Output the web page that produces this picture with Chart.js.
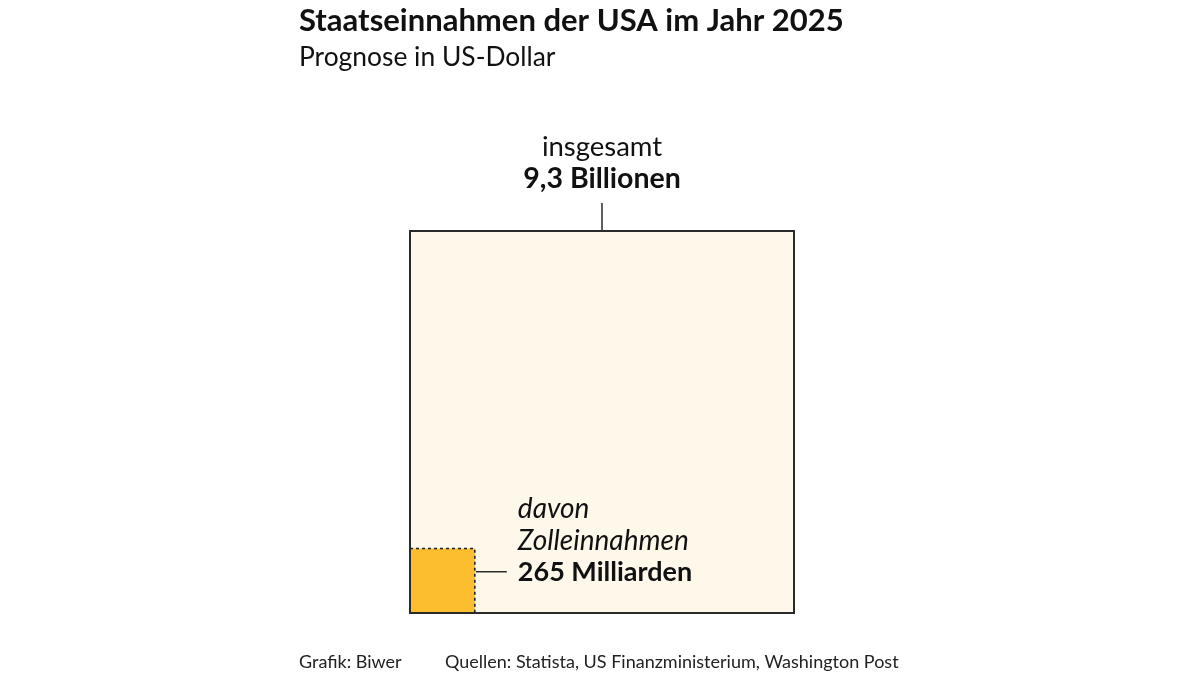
<!DOCTYPE html>
<html><head><meta charset="utf-8">
<script src="https://cdn.jsdelivr.net/npm/chart.js@4.4.1/dist/chart.umd.min.js"></script>
<style>html,body{margin:0;padding:0;background:#fff}#wrap{width:1200px;height:675px}</style>
</head><body><div id="wrap"><canvas id="c" width="1200" height="675"></canvas></div>
<script>
const categories = ["insgesamt", "davon Zolleinnahmen"];
const valuesBillionUSD = [9300, 265];
const valueLabels = ["9,3 Billionen", "265 Milliarden"];
const titleText = "Staatseinnahmen der USA im Jahr 2025";
const subtitleText = "Prognose in US-Dollar";
const footerLeft = "Grafik: Biwer";
const footerRight = "Quellen: Statista, US Finanzministerium, Washington Post";

const FONT = "Lato, 'Noto Sans', sans-serif";
const side = valuesBillionUSD.map(v => Math.sqrt(v));

const squarePlugin = {
  id: 'squares',
  afterDatasetsDraw(chart) {
    const ctx = chart.ctx, xs = chart.scales.x, ys = chart.scales.y;
    const x0 = xs.getPixelForValue(0), y0 = ys.getPixelForValue(0);
    const xb = xs.getPixelForValue(side[0]), yb = ys.getPixelForValue(side[0]);
    const xs1 = xs.getPixelForValue(side[1]), ys1 = ys.getPixelForValue(side[1]);
    ctx.save();
    ctx.fillStyle = '#fdf8ea';
    ctx.fillRect(x0, yb, xb - x0, y0 - yb);
    ctx.fillStyle = '#fcbd2f';
    ctx.fillRect(x0, ys1, xs1 - x0, y0 - ys1);
    ctx.strokeStyle = '#222';
    ctx.lineWidth = 1.6;
    ctx.setLineDash([3, 3]);
    ctx.beginPath();
    ctx.moveTo(x0, ys1); ctx.lineTo(xs1, ys1); ctx.lineTo(xs1, y0);
    ctx.stroke();
    ctx.setLineDash([]);
    ctx.lineWidth = 2;
    ctx.strokeStyle = '#2a2a2a';
    ctx.strokeRect(x0, yb, xb - x0, y0 - yb);
    const xc = xs.getPixelForValue(side[0] / 2);
    ctx.lineWidth = 1.5;
    ctx.beginPath(); ctx.moveTo(xc, yb - 28); ctx.lineTo(xc, yb); ctx.stroke();
    const ly = ys.getPixelForValue(side[1] * 0.64);
    ctx.beginPath(); ctx.moveTo(xs1 + 1, ly); ctx.lineTo(xs1 + 32, ly); ctx.stroke();

    ctx.fillStyle = '#111';
    ctx.textBaseline = 'alphabetic';
    ctx.textAlign = 'center';
    ctx.font = '400 27.5px ' + FONT;
    ctx.fillText(categories[0], xc, yb - 75);
    ctx.font = '700 28.5px ' + FONT;
    ctx.fillText(valueLabels[0], xc, yb - 43);

    ctx.textAlign = 'left';
    const lx = xs1 + 43;
    const parts = categories[1].split(' ');
    ctx.font = 'italic 400 28px ' + FONT;
    ctx.fillText(parts[0], lx, ly - 54);
    ctx.fillText(parts[1], lx, ly - 22);
    ctx.font = '700 27px ' + FONT;
    ctx.fillText(valueLabels[1], lx, ly + 9);

    ctx.font = '700 31px ' + FONT;
    ctx.fillText(titleText, 299, 31);
    ctx.font = '400 26.4px ' + FONT;
    ctx.fillText(subtitleText, 299, 66);
    ctx.font = '400 18px ' + FONT;
    ctx.fillStyle = '#222';
    ctx.fillText(footerLeft, 299, 668);
    ctx.fillText(footerRight, 445, 668);
    ctx.restore();
  }
};

new Chart(document.getElementById('c'), {
  type: 'scatter',
  data: { datasets: [{ data: [], pointRadius: 0 }] },
  options: {
    responsive: false,
    animation: false,
    layout: { padding: { left: 410, right: 1200 - 794, top: 231, bottom: 675 - 613 } },
    scales: {
      x: { type: 'linear', min: 0, max: side[0], display: false },
      y: { type: 'linear', min: 0, max: side[0], display: false }
    },
    plugins: { legend: { display: false }, tooltip: { enabled: false } }
  },
  plugins: [squarePlugin]
});
</script></body></html>
